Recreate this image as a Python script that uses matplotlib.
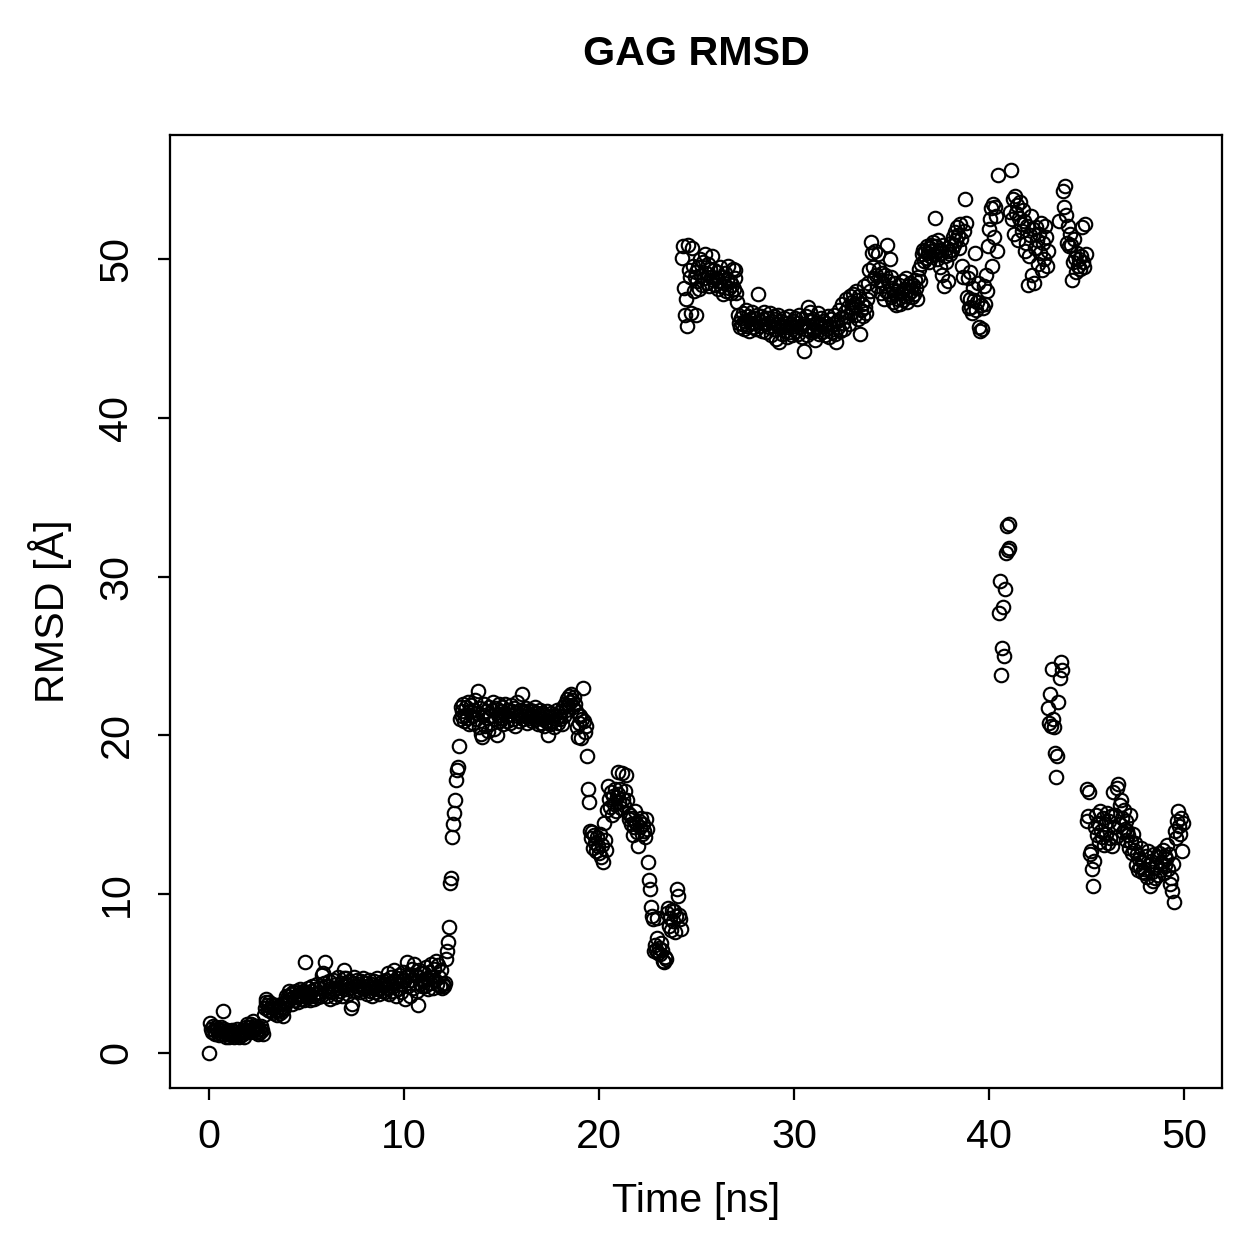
import numpy as np
import matplotlib
matplotlib.use("Agg")
import matplotlib.pyplot as plt

plt.rcParams['font.family'] = ['Liberation Sans', 'DejaVu Sans']

title = "GAG RMSD"
xlabel = "Time [ns]"
ylabel = "RMSD [Å]"
x_ticks = [0, 10, 20, 30, 40, 50]
y_ticks = [0, 10, 20, 30, 40, 50]
time_step_ns = 0.05

# RMSD values, one row per nanosecond (20 frames each)
rmsd_rows = [
    [0.0, 1.9, 1.5, 1.3, 1.7, 1.4, 1.2, 1.6, 1.5, 1.3, 1.1, 1.4, 1.6, 1.2, 2.6, 1.5, 1.3, 1.0, 1.4, 1.2],
    [1.2, 1.0, 1.3, 1.1, 1.4, 1.2, 1.0, 1.3, 1.1, 1.5, 1.2, 1.0, 1.3, 1.1, 1.4, 1.2, 1.0, 1.3, 1.6, 1.8],
    [1.4, 1.6, 1.3, 1.8, 1.5, 2.0, 1.4, 1.7, 1.3, 1.6, 1.2, 1.5, 1.3, 1.7, 1.4, 1.2, 2.4, 2.8, 3.4, 3.2],
    [3.0, 2.7, 3.2, 2.6, 2.9, 3.1, 2.5, 2.8, 3.0, 2.6, 2.4, 2.9, 2.7, 2.5, 3.1, 2.6, 2.3, 2.8, 3.2, 3.6],
    [3.2, 3.6, 3.9, 3.4, 3.7, 3.1, 3.8, 3.5, 3.3, 3.9, 3.6, 3.2, 3.7, 4.0, 3.4, 3.6, 3.9, 3.3, 3.7, 5.7],
    [3.8, 3.5, 4.1, 3.7, 3.3, 3.9, 4.2, 3.6, 3.4, 4.0, 3.7, 4.3, 3.5, 3.8, 4.1, 3.6, 4.9, 5.0, 4.4, 5.7],
    [4.2, 3.6, 3.9, 4.5, 3.4, 4.1, 3.8, 4.6, 4.0, 3.5, 4.3, 3.7, 4.8, 4.1, 3.9, 4.4, 3.6, 4.2, 4.7, 5.2],
    [4.3, 4.7, 4.0, 3.7, 4.5, 4.1, 2.8, 3.1, 4.4, 4.8, 4.2, 3.9, 4.6, 4.0, 4.3, 3.8, 4.5, 4.1, 4.7, 4.2],
    [4.0, 4.4, 3.7, 4.2, 4.6, 3.9, 4.3, 3.6, 4.1, 4.5, 3.8, 4.2, 4.7, 4.0, 3.7, 4.4, 4.1, 3.9, 4.5, 4.2],
    [4.3, 3.8, 4.6, 4.1, 5.0, 3.7, 4.4, 4.8, 3.9, 4.2, 5.2, 4.5, 3.6, 4.7, 4.0, 4.9, 4.3, 3.8, 4.6, 5.1],
    [4.5, 3.4, 4.8, 5.7, 4.2, 4.9, 3.6, 4.6, 5.3, 4.1, 5.6, 4.4, 4.9, 3.9, 3.0, 5.2, 4.3, 5.0, 4.6, 4.2],
    [4.5, 5.0, 4.2, 5.4, 4.7, 4.0, 5.1, 4.4, 5.6, 4.8, 4.1, 5.3, 4.6, 5.8, 4.3, 5.5, 4.8, 4.2, 5.2, 4.1],
    [4.3, 4.2, 4.4, 5.9, 6.4, 7.0, 7.9, 10.7, 11.0, 13.6, 14.4, 15.1, 15.9, 17.2, 17.8, 18.0, 19.3, 21.0, 21.8, 21.2],
    [21.5, 22.0, 20.9, 21.3, 21.8, 21.1, 22.1, 20.7, 21.5, 21.9, 21.2, 20.8, 21.6, 22.2, 21.0, 21.4, 22.8, 20.5, 21.7, 20.1],
    [19.9, 21.3, 22.0, 20.6, 21.5, 21.1, 20.3, 21.8, 21.2, 20.8, 21.6, 22.1, 20.4, 21.0, 21.7, 20.0, 21.3, 22.0, 20.9, 21.5],
    [21.1, 21.8, 20.7, 21.4, 22.0, 21.2, 20.9, 21.6, 21.3, 20.8, 21.9, 21.5, 21.0, 21.7, 20.6, 21.4, 22.1, 21.2, 20.9, 21.6],
    [21.3, 22.6, 21.0, 21.5, 21.2, 21.7, 20.8, 21.4, 21.1, 21.6, 21.3, 20.9, 21.5, 21.2, 21.8, 21.0, 21.4, 20.7, 21.3, 21.6],
    [21.1, 20.8, 21.4, 21.0, 20.6, 21.3, 20.9, 21.5, 20.0, 21.2, 20.7, 21.4, 20.9, 21.1, 20.5, 21.3, 21.0, 21.6, 20.8, 21.2],
    [21.0, 21.5, 20.7, 21.8, 21.2, 22.0, 21.6, 22.3, 21.9, 22.5, 22.1, 22.6, 22.2, 21.8, 22.4, 22.0, 21.5, 20.5, 19.9, 21.3],
    [20.8, 21.2, 19.8, 21.0, 23.0, 20.9, 20.2, 20.6, 18.7, 16.6, 15.8, 14.0, 13.5, 13.9, 12.9, 13.7, 13.2, 12.7, 13.6, 13.0],
    [12.6, 13.8, 12.3, 13.1, 12.0, 14.5, 13.4, 12.8, 15.3, 16.8, 16.0, 15.5, 16.4, 15.0, 16.2, 15.7, 16.6, 15.2, 16.1, 17.7],
    [16.3, 15.8, 16.6, 15.4, 17.6, 16.0, 15.6, 16.5, 17.5, 15.9, 15.1, 14.7, 15.0, 14.4, 14.8, 13.7, 14.2, 15.2, 14.5, 13.9],
    [13.0, 14.6, 14.2, 14.8, 13.8, 14.4, 14.0, 13.6, 14.7, 14.1, 12.0, 10.9, 10.3, 9.2, 8.6, 8.4, 6.4, 6.8, 6.5, 8.5],
    [7.2, 6.3, 6.6, 6.2, 6.9, 6.5, 5.8, 5.7, 6.0, 5.9, 8.8, 9.1, 8.0, 8.5, 7.7, 9.0, 8.3, 8.9, 7.6, 8.6],
    [10.3, 9.9, 8.7, 8.4, 7.8, 50.1, 50.8, 48.2, 46.5, 47.5, 45.8, 50.9, 49.3, 48.9, 46.6, 50.7, 49.6, 48.0, 48.9, 46.5],
    [49.2, 48.6, 49.5, 48.1, 50.0, 49.0, 48.4, 49.8, 48.8, 50.3, 49.1, 48.5, 49.7, 48.3, 49.4, 48.9, 50.2, 48.7, 49.3, 48.4],
    [48.8, 49.2, 48.1, 48.6, 49.5, 48.3, 48.9, 47.8, 48.5, 49.1, 48.0, 48.7, 49.6, 48.2, 48.6, 47.9, 48.4, 49.4, 48.1, 48.8],
    [49.3, 47.9, 47.3, 46.5, 46.0, 45.7, 46.3, 45.9, 46.6, 45.6, 46.1, 46.8, 45.8, 46.4, 45.5, 46.2, 46.0, 46.7, 45.7, 46.3],
    [46.0, 45.6, 46.5, 47.8, 46.1, 45.8, 46.4, 45.5, 46.2, 46.7, 45.9, 45.4, 46.3, 46.0, 45.7, 46.6, 45.2, 46.1, 45.8, 46.4],
    [45.6, 46.2, 45.0, 45.9, 46.5, 44.8, 45.7, 46.1, 45.3, 45.8, 46.3, 45.5, 46.0, 45.1, 45.7, 46.4, 45.4, 45.9, 45.2, 46.1],
    [45.8, 46.3, 45.5, 46.0, 45.3, 46.5, 45.7, 46.2, 45.1, 45.9, 44.2, 45.6, 46.4, 45.2, 47.0, 45.8, 46.7, 45.4, 46.1, 45.6],
    [46.2, 45.5, 44.9, 46.0, 45.7, 46.6, 45.3, 45.9, 46.3, 45.4, 46.1, 45.8, 45.2, 46.0, 45.6, 46.4, 45.1, 45.7, 46.2, 45.4],
    [45.9, 46.5, 45.3, 44.8, 46.1, 45.7, 46.8, 45.5, 46.3, 47.2, 46.0, 45.6, 46.7, 47.5, 46.4, 47.0, 45.9, 47.7, 46.6, 47.3],
    [46.9, 47.8, 47.1, 46.5, 48.0, 47.4, 46.2, 47.7, 45.3, 46.8, 47.2, 46.4, 48.3, 47.0, 46.6, 47.5, 48.5, 49.3, 48.0, 51.1],
    [50.4, 49.5, 48.8, 50.5, 49.0, 48.3, 50.3, 49.4, 48.7, 47.9, 49.1, 48.5, 47.5, 49.0, 48.0, 50.9, 48.6, 47.8, 50.0, 48.9],
    [47.6, 48.2, 47.3, 48.5, 47.8, 47.1, 48.0, 47.5, 48.4, 47.2, 47.9, 48.6, 47.4, 48.1, 47.7, 48.8, 47.3, 48.3, 47.9, 48.5],
    [48.0, 47.6, 48.4, 47.8, 48.7, 48.2, 47.5, 48.9, 49.4, 48.6, 49.7, 50.3, 50.6, 49.9, 50.5, 50.1, 50.8, 50.4, 49.8, 50.7],
    [50.2, 50.9, 50.5, 51.1, 50.3, 52.6, 50.8, 50.0, 51.2, 50.6, 49.5, 50.4, 49.0, 50.9, 48.3, 50.2, 49.8, 50.7, 48.6, 50.5],
    [50.3, 51.0, 50.6, 51.4, 50.9, 51.7, 51.2, 52.0, 51.5, 50.7, 52.2, 51.3, 49.6, 48.9, 51.8, 53.8, 52.3, 47.6, 48.8, 46.9],
    [47.5, 49.2, 47.0, 46.6, 48.2, 47.4, 50.4, 46.8, 47.3, 48.5, 45.7, 45.5, 47.1, 45.6, 46.9, 48.3, 47.2, 49.0, 48.0, 50.8],
    [51.9, 52.5, 53.2, 49.6, 53.5, 51.4, 53.3, 52.7, 50.5, 55.3, 27.7, 29.7, 23.8, 25.5, 28.1, 25.0, 29.2, 31.5, 33.2, 31.7],
    [33.3, 31.8, 53.0, 55.6, 52.5, 53.8, 51.6, 54.0, 52.9, 53.4, 51.2, 52.6, 53.6, 52.2, 51.8, 53.1, 52.4, 50.5, 51.0, 52.1],
    [48.4, 50.2, 51.5, 52.7, 49.0, 51.9, 48.5, 50.7, 52.0, 51.2, 49.7, 51.6, 50.4, 52.3, 49.3, 51.0, 50.0, 52.1, 51.4, 49.6],
    [50.5, 21.7, 20.8, 22.6, 20.6, 24.2, 21.0, 20.5, 18.9, 17.4, 18.7, 22.1, 52.4, 23.6, 24.6, 24.1, 54.3, 53.3, 54.6, 52.8],
    [51.0, 52.1, 50.8, 51.6, 50.9, 48.7, 49.8, 51.3, 50.1, 49.2, 50.4, 49.6, 50.0, 49.4, 50.2, 52.0, 49.8, 49.5, 52.2, 50.3],
    [14.6, 16.6, 14.9, 16.4, 12.5, 12.7, 11.6, 10.5, 12.1, 14.2, 15.0, 13.7, 14.5, 13.3, 15.2, 14.0, 13.6, 14.8, 13.1, 14.4],
    [13.8, 15.1, 13.2, 14.6, 13.5, 14.9, 13.0, 16.4, 14.2, 15.0, 13.6, 16.7, 16.9, 14.4, 15.6, 15.9, 14.8, 13.9, 15.3, 14.1],
    [14.6, 13.4, 14.0, 13.7, 12.9, 15.0, 13.3, 12.6, 13.8, 12.8, 13.2, 11.8, 12.5, 11.5, 12.2, 11.7, 12.9, 11.4, 12.0, 11.6],
    [11.3, 12.4, 11.1, 12.7, 11.8, 10.5, 12.1, 11.4, 10.8, 12.5, 11.0, 11.7, 12.3, 11.2, 12.6, 11.5, 12.0, 11.9, 12.8, 11.3],
    [12.4, 11.8, 12.2, 13.1, 11.6, 12.5, 10.6, 11.0, 10.2, 11.9, 9.5, 14.0, 13.5, 14.6, 15.2, 14.3, 13.8, 14.8, 12.7, 14.5],
]

rmsd = np.concatenate([np.array(r, dtype=float) for r in rmsd_rows])
time = np.arange(len(rmsd)) * time_step_ns

W = 1259
dpi = 180
fig = plt.figure(figsize=(W / dpi, W / dpi), dpi=dpi)
ax = fig.add_axes([170 / W, 1 - 1088 / W, (1222 - 170) / W, (1088 - 135) / W])

ax.plot(time, rmsd, linestyle='none', marker='o', markersize=5.4,
        markerfacecolor='none', markeredgecolor='black', markeredgewidth=0.85)

# R-style 4% range extension
xr = time.max() - time.min()
yr = rmsd.max() - rmsd.min()
ax.set_xlim(time.min() - 0.04 * xr, time.max() + 0.04 * xr)
ax.set_ylim(rmsd.min() - 0.04 * yr, rmsd.max() + 0.04 * yr)

ax.set_xticks(x_ticks)
ax.set_yticks(y_ticks)
ax.tick_params(axis='both', direction='out', length=4.8, width=0.9,
               labelsize=16.5, pad=7, colors='black')
ax.tick_params(axis='y', pad=9)
for lbl in ax.get_yticklabels():
    lbl.set_rotation(90)
    lbl.set_va('center')
for sp in ax.spines.values():
    sp.set_linewidth(0.9)

ax.set_xlabel(xlabel, fontsize=16.5)
ax.xaxis.label.set_va('center')
ax.xaxis.set_label_coords(0.5, -(1201 - 1088) / 953)
ax.set_ylabel(ylabel, fontsize=16.5)
ax.yaxis.label.set_va('center')
ax.yaxis.set_label_coords(-(170 - 50) / 1052, 0.5)

ax.set_title(title, fontsize=16.5, fontweight='bold',
             y=1 + (135 - 69) / 953, va='center')

fig.savefig("out.png", dpi=dpi)
